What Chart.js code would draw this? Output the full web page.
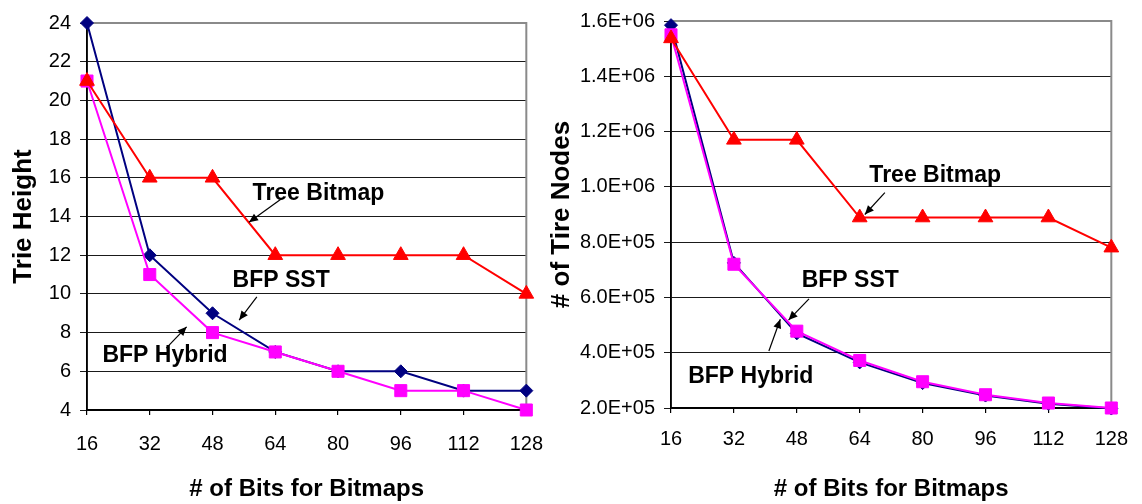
<!DOCTYPE html>
<html>
<head>
<meta charset="utf-8">
<script src="https://cdn.jsdelivr.net/npm/chart.js@4"></script>
<style>
  html, body { margin: 0; padding: 0; background: #fff; }
  body { width: 1142px; height: 504px; position: relative; overflow: hidden; }
  .box { position: absolute; top: 0; height: 504px; }
  #leftBox { left: 0; width: 560px; }
  #rightBox { left: 540px; width: 602px; }
</style>
</head>
<body>
<div class="box" id="leftBox"><canvas id="left"></canvas></div>
<div class="box" id="rightBox"><canvas id="right"></canvas></div>
<script>
const bits = [16, 32, 48, 64, 80, 96, 112, 128];

const heightTree   = [21, 16, 16, 12, 12, 12, 12, 10];
const heightSST    = [24, 12, 9, 7, 6, 6, 5, 5];
const heightHybrid = [21, 11, 8, 7, 6, 5, 5, 4];

const nodesTree   = [1537000, 1170000, 1170000, 889000, 889000, 889000, 889000, 780000];
const nodesSST    = [1585000, 725000, 470000, 365000, 290000, 245000, 215000, 198000];
const nodesHybrid = [1550000, 720000, 478000, 372000, 295000, 248000, 218000, 200000];

const seriesNames = ['Tree Bitmap', 'BFP SST', 'BFP Hybrid'];
const xTitle = '# of Bits for Bitmaps';
const leftYTitle = 'Trie Height';
const rightYTitle = '# of Tire Nodes';

const FONT = "'Liberation Sans', Arial, sans-serif";

function pts(vals) { return bits.map((b, i) => ({ x: b, y: vals[i] })); }

function sciLabel(v) {
  const s = Number(v).toExponential(1);
  const [m, e] = s.split('e');
  const sign = e[0] === '-' ? '-' : '+';
  const d = e.replace(/[+-]/, '');
  return m + 'E' + sign + (d.length < 2 ? '0' + d : d);
}

const frame = {
  id: 'frame',
  beforeDatasetsDraw(chart) {
    const { ctx, chartArea: a } = chart;
    ctx.save();
    ctx.strokeStyle = '#8a8a8a';
    ctx.lineWidth = 2;
    ctx.beginPath();
    ctx.moveTo(a.left, a.top);
    ctx.lineTo(a.right, a.top);
    ctx.lineTo(a.right, a.bottom);
    ctx.stroke();
    ctx.strokeStyle = '#000';
    ctx.lineWidth = 1.5;
    ctx.beginPath();
    ctx.moveTo(a.left, a.top);
    ctx.lineTo(a.left, a.bottom);
    ctx.lineTo(a.right, a.bottom);
    ctx.stroke();
    ctx.restore();
  }
};

const annotate = {
  id: 'annotate',
  afterDatasetsDraw(chart, args, opts) {
    const { ctx } = chart;
    const xs = chart.scales.x, ys = chart.scales.y;
    ctx.save();
    ctx.fillStyle = '#000';
    ctx.strokeStyle = '#000';
    ctx.font = 'bold 23px ' + FONT;
    ctx.textAlign = 'center';
    ctx.textBaseline = 'middle';
    (opts.labels || []).forEach(l => {
      ctx.fillText(l.text, xs.getPixelForValue(l.x), ys.getPixelForValue(l.y));
    });
    (opts.arrows || []).forEach(a => {
      const x1 = xs.getPixelForValue(a.x1), y1 = ys.getPixelForValue(a.y1);
      const x2 = xs.getPixelForValue(a.x2), y2 = ys.getPixelForValue(a.y2);
      ctx.lineWidth = 1.2;
      ctx.beginPath(); ctx.moveTo(x1, y1); ctx.lineTo(x2, y2); ctx.stroke();
      const ang = Math.atan2(y2 - y1, x2 - x1), L = 9, W = 4;
      const bx = x2 - L * Math.cos(ang), by = y2 - L * Math.sin(ang);
      ctx.beginPath();
      ctx.moveTo(x2, y2);
      ctx.lineTo(bx + W * Math.sin(ang), by - W * Math.cos(ang));
      ctx.lineTo(bx - W * Math.sin(ang), by + W * Math.cos(ang));
      ctx.closePath();
      ctx.fill();
    });
    ctx.restore();
  }
};

function datasets(tree, sst, hybrid) {
  return [
    { label: seriesNames[0], data: pts(tree), borderColor: '#ff0000', backgroundColor: '#ff0000',
      borderWidth: 2, pointStyle: 'triangle', pointRadius: 8.5, pointHoverRadius: 8.5, pointBorderWidth: 1, clip: false },
    { label: seriesNames[2], data: pts(hybrid), borderColor: '#ff00ff', backgroundColor: '#ff00ff',
      borderWidth: 2, pointStyle: 'rect', pointRadius: 8.5, pointHoverRadius: 8.5, pointBorderWidth: 1, clip: false },
    { label: seriesNames[1], data: pts(sst), borderColor: '#000080', backgroundColor: '#000080',
      borderWidth: 2, pointStyle: 'rectRot', pointRadius: 6.5, pointHoverRadius: 6.5, pointBorderWidth: 1, clip: false }
  ];
}

function makeChart(id, cfg) {
  return new Chart(document.getElementById(id), {
    type: 'line',
    data: { datasets: datasets(cfg.tree, cfg.sst, cfg.hybrid) },
    plugins: [frame, annotate],
    options: {
      responsive: true,
      maintainAspectRatio: false,
      animation: false,
      events: [],
      layout: { padding: { left: 0, right: cfg.padRight, top: cfg.padTop, bottom: 0 } },
      plugins: {
        legend: { display: false },
        tooltip: { enabled: false },
        annotate: { labels: cfg.labels, arrows: cfg.arrows }
      },
      scales: {
        x: {
          type: 'linear', min: 16, max: 128,
          afterFit: s => { s.height = cfg.xHeight; },
          ticks: { stepSize: 16, color: '#000', padding: cfg.xTickPad, font: { family: FONT, size: 20 } },
          grid: { drawOnChartArea: false, drawTicks: true, tickLength: 5, color: '#000', lineWidth: 1.2 },
          border: { display: true, color: '#000', width: 1.5 },
          title: { display: true, text: xTitle, color: '#000', padding: { top: 0, bottom: 0 },
                   font: { family: FONT, size: 24, weight: 'bold', lineHeight: 1.2 } }
        },
        y: {
          type: 'linear', min: cfg.yMin, max: cfg.yMax,
          afterFit: s => { s.width = cfg.yWidth; },
          ticks: { stepSize: cfg.yStep, color: '#000', padding: 9, font: { family: FONT, size: 20 },
                   callback: cfg.yFmt },
          grid: { drawTicks: true, tickLength: 7, color: '#1a1a1a', lineWidth: 1 },
          border: { display: true, color: '#000', width: 1.5 },
          title: { display: true, text: cfg.yTitle, color: '#000', padding: { top: cfg.yTitlePad, bottom: 0 },
                   font: { family: FONT, size: 26, weight: 'bold', lineHeight: 1.2 } }
        }
      }
    }
  });
}

makeChart('left', {
  tree: heightTree, sst: heightSST, hybrid: heightHybrid,
  yMin: 4, yMax: 24, yStep: 2, yFmt: v => String(v),
  yTitle: leftYTitle, yTitlePad: 8,
  yWidth: 87, xHeight: 94, padRight: 23, padTop: 23, xTickPad: 17,
  labels: [
    { text: 'Tree Bitmap', x: 75, y: 15.2 },
    { text: 'BFP SST', x: 65.5, y: 10.7 },
    { text: 'BFP Hybrid', x: 35.9, y: 6.8 }
  ],
  arrows: [
    { x1: 65.5, y1: 14.9, x2: 57.3, y2: 13.7 },
    { x1: 59.3, y1: 9.85, x2: 54.8, y2: 8.65 },
    { x1: 36.2, y1: 7.2, x2: 41.4, y2: 8.3 }
  ]
});

makeChart('right', {
  tree: nodesTree, sst: nodesSST, hybrid: nodesHybrid,
  yMin: 200000, yMax: 1600000, yStep: 200000, yFmt: v => sciLabel(v),
  yTitle: rightYTitle, yTitlePad: 6,
  yWidth: 131, xHeight: 96, padRight: 25, padTop: 20, xTickPad: 14,
  labels: [
    { text: 'Tree Bitmap', x: 83.2, y: 1040000 },
    { text: 'BFP SST', x: 61.6, y: 659000 },
    { text: 'BFP Hybrid', x: 36.3, y: 312000 }
  ],
  arrows: [
    { x1: 70.4, y1: 979000, x2: 65.3, y2: 900000 },
    { x1: 51.1, y1: 595000, x2: 45.9, y2: 518000 },
    { x1: 40.9, y1: 406000, x2: 43.8, y2: 521000 }
  ]
});
</script>
</body>
</html>
